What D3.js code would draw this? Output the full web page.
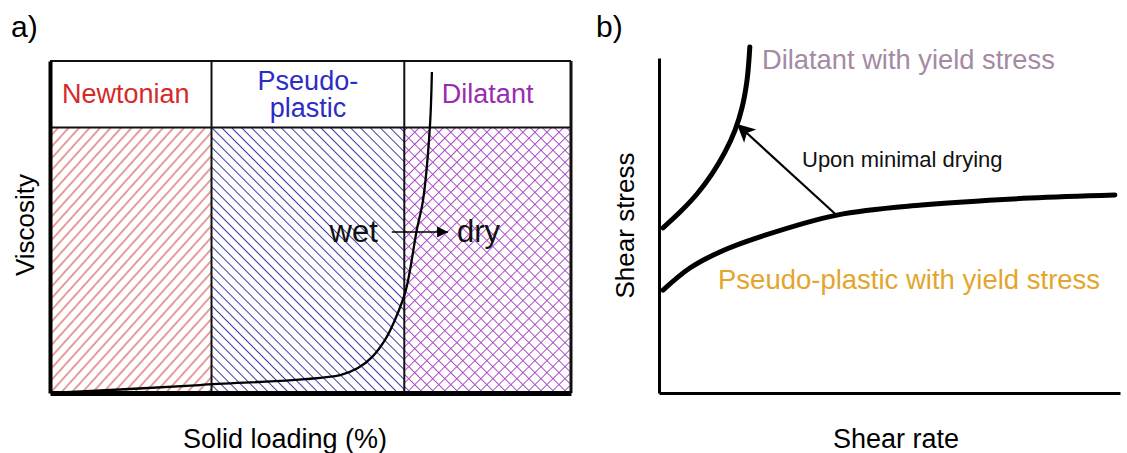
<!DOCTYPE html>
<html lang='en'>
<head>
<meta charset='utf-8'>
<title>Viscosity and flow curves</title>
<script src="https://d3js.org/d3.v7.min.js"></script>
<style>
    body {margin:0; background:#fff;}
    text {font-family:"Liberation Sans", Arial, Helvetica, sans-serif;}
</style>
</head>
<body>
<div id='chart'></div>
<script>
    // ---- panel a : regimes along solid loading ----
    const regionNames = [["Newtonian"], ["Pseudo-", "plastic"], ["Dilatant"]];
    const regionEdges = [0, 31, 68, 100];
    const headerFrom = 80;   // viscosity level where the label row starts

    // viscosity curve: solid loading (%) vs viscosity (arbitrary)
    const loading   = [0.4, 28.8, 55.7, 59.1, 61.8, 64.3, 66.2, 68.3, 70.4, 71.6, 72.9, 73.3];
    const viscosity = [0, 2.4, 5.4, 7.5, 10.8, 16.0, 22.0, 31.0, 49.1, 58.1, 79.8, 96.7];
    const wetDry = [65.6, 76.4];
    const wetDryLevel = 48.5;

    // ---- panel b : flow curves ----
    const pseudoRate   = [0.87, 6.7, 13.2, 21.9, 38.6, 57.0, 80.5, 98.9];
    const pseudoStress = [30.7, 37.3, 42.1, 46.6, 53.1, 56.1, 58.2, 59.1];
    const dilatRate    = [0.87, 4.56, 8.24, 11.5, 14.3, 16.5, 18.0, 19.1, 19.7];
    const dilatStress  = [49.3, 54.0, 59.4, 65.4, 71.9, 78.5, 85.1, 93.4, 103.3];
    const dryingFrom = [38.6, 53.0];
    const dryingTo   = [16.9, 80.3];

    const regionText  = ["#d42a2a", "#2d2dc4", "#9b2bb0"];
    const regionHatch = ["#cc3b3b", "#3c3ca6", "#a848c4"];

    let svg = d3.select("#chart").append("svg")
        .attr("width", 1127).attr("height", 453);

    let defs = svg.append("defs");
    let hatch = (id, angle, gap, color, cross) => {
        let p = defs.append("pattern")
            .attr("id", id)
            .attr("patternUnits", "userSpaceOnUse")
            .attr("width", gap).attr("height", gap)
            .attr("patternTransform", `rotate(${angle})`);
        p.append("line").attr("x1", gap/2).attr("x2", gap/2).attr("y1", -1).attr("y2", gap+1)
            .attr("stroke", color).attr("stroke-width", 1);
        if (cross) {
            p.append("line").attr("y1", gap/2).attr("y2", gap/2).attr("x1", -1).attr("x2", gap+1)
                .attr("stroke", color).attr("stroke-width", 1);
        }
    }
    hatch("h0", 42, 7.8, regionHatch[0], false);
    hatch("h1", -45, 7, regionHatch[1], false);
    hatch("h2", 45, 8.5, regionHatch[2], true);

    // ================= panel a =================
    let xa = d3.scaleLinear().domain([0, 100]).range([50, 571]);
    let ya = d3.scaleLinear().domain([0, 100]).range([393, 61]);

    let a = svg.append("g");

    a.selectAll(".zone")
        .data(regionNames)
        .enter()
        .append("rect")
            .attr("x", (d, i) => xa(regionEdges[i]))
            .attr("y", ya(headerFrom))
            .attr("width", (d, i) => xa(regionEdges[i+1]) - xa(regionEdges[i]))
            .attr("height", ya(0) - ya(headerFrom))
            .attr("fill", (d, i) => `url(#h${i})`);

    // frame lines
    let thin = [
        [0, 100, 100, 100], [0, headerFrom, 100, headerFrom],
        [100, 0, 100, 100],
        [regionEdges[1], 0, regionEdges[1], 100], [regionEdges[2], 0, regionEdges[2], 100]
    ];
    a.selectAll(".frame")
        .data(thin)
        .enter()
        .append("line")
            .attr("x1", d => xa(d[0])).attr("y1", d => ya(d[1]))
            .attr("x2", d => xa(d[2])).attr("y2", d => ya(d[3]))
            .attr("stroke", "#111")
            .attr("stroke-width", (d, i) => i == 2 ? 3 : 2);

    a.append("g")
        .attr("transform", `translate(0,${ya(0)})`)
        .call(d3.axisBottom(xa).ticks(0).tickSizeOuter(0))
        .select(".domain").attr("stroke", "#000").attr("stroke-width", 5);
    a.append("g")
        .attr("transform", `translate(${xa(0)},0)`)
        .call(d3.axisLeft(ya).ticks(0).tickSizeOuter(0))
        .select(".domain").attr("stroke", "#000").attr("stroke-width", 4);

    // header labels
    regionNames.forEach((lines, i) => {
        let cx = (xa(regionEdges[i]) + xa(regionEdges[i+1])) / 2;
        let cy = (ya(100) + ya(headerFrom)) / 2;
        lines.forEach((s, j) => {
            a.append("text")
                .attr("x", cx - (i == 0 ? 5 : 0))
                .attr("y", cy + 9 + (j - (lines.length - 1) / 2) * 27)
                .attr("text-anchor", "middle")
                .style("font-size", "27px")
                .attr("fill", regionText[i])
                .text(s);
        });
    });

    let curve = d3.line()
        .x(d => d[0]).y(d => d[1])
        .curve(d3.curveCatmullRom.alpha(0.5));

    a.append("path")
        .attr("d", curve(loading.map((v, i) => [xa(v), ya(viscosity[i])])))
        .attr("fill", "none").attr("stroke", "#000").attr("stroke-width", 2.3);

    // wet -> dry arrow
    defs.append("marker")
        .attr("id", "headA").attr("viewBox", "0 0 10 10")
        .attr("refX", 10).attr("refY", 5)
        .attr("markerUnits", "userSpaceOnUse")
        .attr("markerWidth", 16).attr("markerHeight", 11)
        .attr("orient", "auto")
        .append("path").attr("d", "M0,0L10,5L0,10Z").attr("fill", "#000");

    a.append("line")
        .attr("x1", xa(wetDry[0])).attr("x2", xa(wetDry[1]))
        .attr("y1", ya(wetDryLevel)).attr("y2", ya(wetDryLevel))
        .attr("stroke", "#000").attr("stroke-width", 1.6)
        .attr("marker-end", "url(#headA)");
    a.append("text")
        .attr("x", xa(wetDry[0]) - 14).attr("y", ya(wetDryLevel) + 10)
        .attr("text-anchor", "end").style("font-size", "31px").attr("fill", "#111")
        .text("wet");
    a.append("text")
        .attr("x", xa(wetDry[1]) + 9).attr("y", ya(wetDryLevel) + 10)
        .style("font-size", "31px").attr("fill", "#111")
        .text("dry");

    a.append("text")
        .attr("x", 285).attr("y", 448)
        .attr("text-anchor", "middle").style("font-size", "27px")
        .text("Solid loading (%)");
    a.append("text")
        .attr("transform", `translate(34,${(ya(0) + ya(100)) / 2 - 2}) rotate(-90)`)
        .attr("text-anchor", "middle").style("font-size", "26px")
        .text("Viscosity");
    a.append("text")
        .attr("x", 11).attr("y", 37).style("font-size", "30px")
        .text("a)");

    // ================= panel b =================
    let xb = d3.scaleLinear().domain([0, 100]).range([659, 1120]);
    let yb = d3.scaleLinear().domain([0, 100]).range([393, 58]);

    let b = svg.append("g");

    b.append("g")
        .attr("transform", `translate(0,${yb(0)})`)
        .call(d3.axisBottom(xb).ticks(0).tickSizeOuter(0))
        .select(".domain").attr("stroke", "#000").attr("stroke-width", 3);
    b.append("g")
        .attr("transform", `translate(${xb(0)},0)`)
        .call(d3.axisLeft(yb).ticks(0).tickSizeOuter(0))
        .select(".domain").attr("stroke", "#000").attr("stroke-width", 3);

    b.append("path")
        .attr("d", curve(pseudoRate.map((v, i) => [xb(v), yb(pseudoStress[i])])))
        .attr("fill", "none").attr("stroke", "#000").attr("stroke-width", 5)
        .attr("stroke-linecap", "round");
    b.append("path")
        .attr("d", curve(dilatRate.map((v, i) => [xb(v), yb(dilatStress[i])])))
        .attr("fill", "none").attr("stroke", "#000").attr("stroke-width", 5)
        .attr("stroke-linecap", "round");

    defs.append("marker")
        .attr("id", "headB").attr("viewBox", "0 0 10 10")
        .attr("refX", 10).attr("refY", 5)
        .attr("markerUnits", "userSpaceOnUse")
        .attr("markerWidth", 24).attr("markerHeight", 18)
        .attr("orient", "auto")
        .append("path").attr("d", "M0,0L10,5L0,10L2.5,5Z").attr("fill", "#000");

    b.append("line")
        .attr("x1", xb(dryingFrom[0])).attr("y1", yb(dryingFrom[1]))
        .attr("x2", xb(dryingTo[0])).attr("y2", yb(dryingTo[1]))
        .attr("stroke", "#000").attr("stroke-width", 2.2)
        .attr("marker-end", "url(#headB)");

    b.append("text")
        .attr("x", 802).attr("y", 167).style("font-size", "22px").attr("fill", "#111")
        .text("Upon minimal drying");
    b.append("text")
        .attr("x", 762).attr("y", 69).style("font-size", "27.3px").attr("fill", "#a48aa4")
        .text("Dilatant with yield stress");
    b.append("text")
        .attr("x", 718).attr("y", 289).style("font-size", "27.5px").attr("fill", "#e3a62c")
        .text("Pseudo-plastic with yield stress");

    b.append("text")
        .attr("x", 896).attr("y", 448)
        .attr("text-anchor", "middle").style("font-size", "27px")
        .text("Shear rate");
    b.append("text")
        .attr("transform", `translate(634,${(yb(0) + yb(100)) / 2}) rotate(-90)`)
        .attr("text-anchor", "middle").style("font-size", "26px")
        .text("Shear stress");
    b.append("text")
        .attr("x", 596).attr("y", 37).style("font-size", "30px")
        .text("b)");
</script>
</body>
</html>
